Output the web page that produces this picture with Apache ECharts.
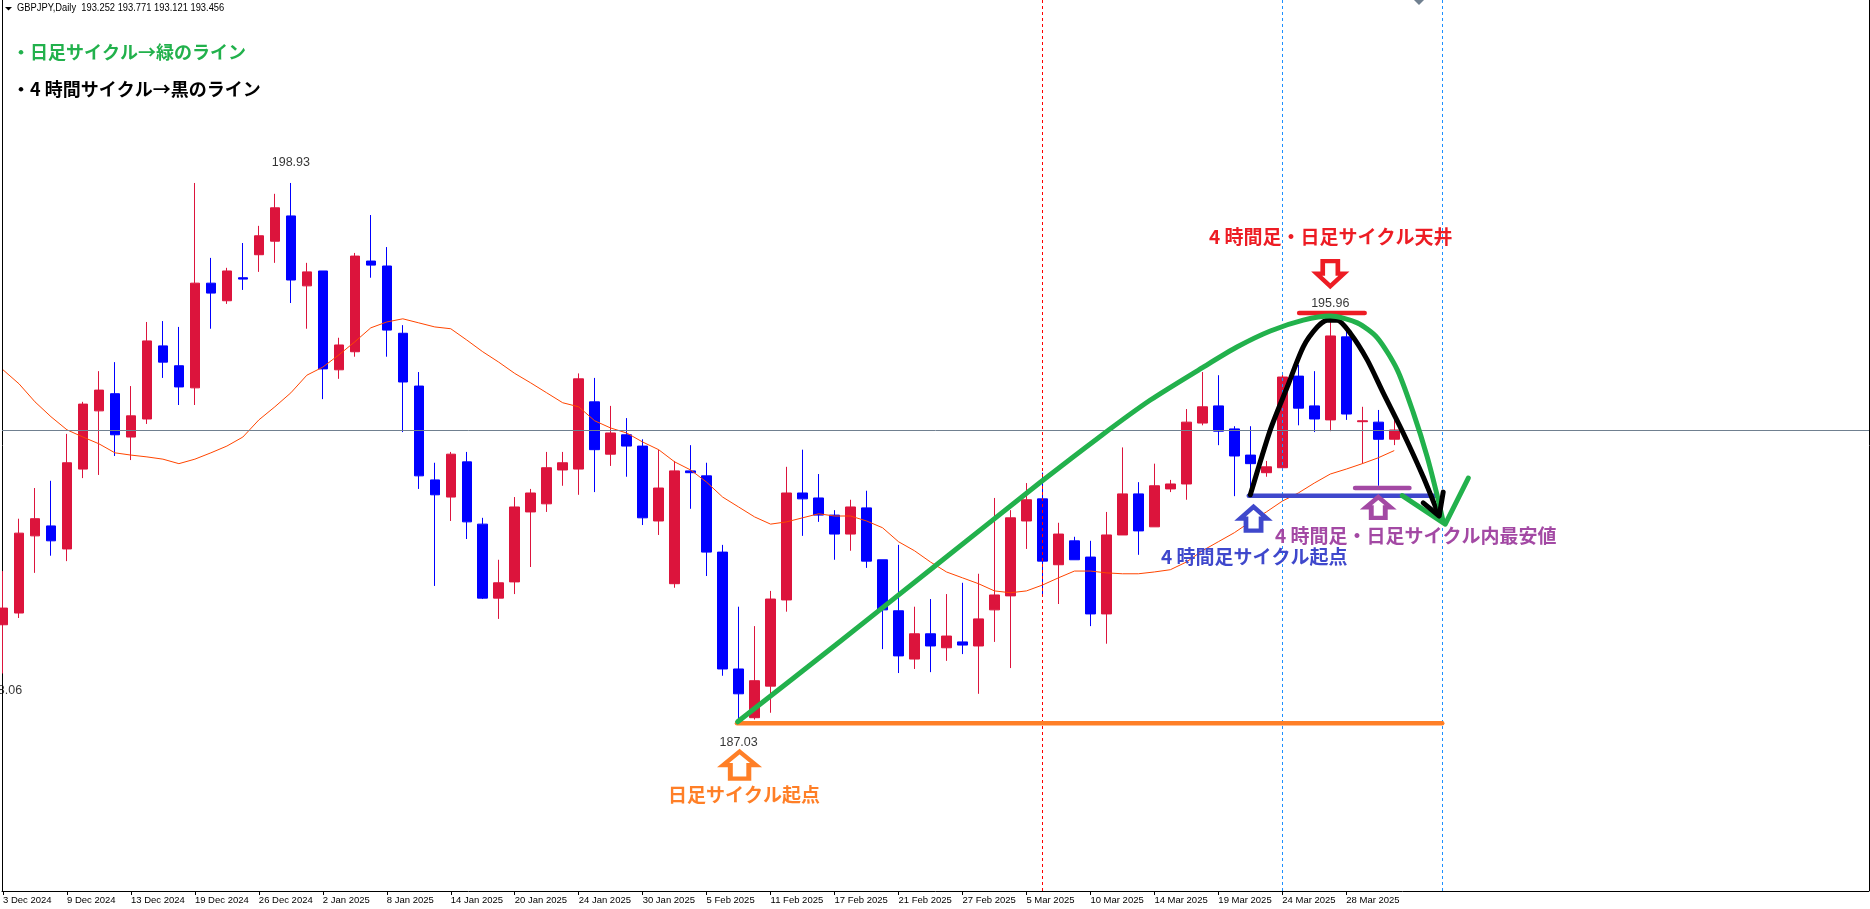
<!DOCTYPE html>
<html lang="ja">

<head>
  <meta charset="utf-8">
  <title>GBPJPY Daily</title>
  <script src="https://cdn.jsdelivr.net/npm/echarts@6/dist/echarts.min.js"></script>
  <style>
    html, body { margin: 0; background: white; overflow: hidden; }
    #chart { width: 1870px; height: 909px; }
  </style>
</head>

<body>
  <div id="chart"></div>

  <script>
    // --- Data.

    // Candles, one entry per trading day, starting at 3 Dec 2024.
    const opens = [
      189.14, 189.40, 191.11, 191.33, 190.82, 192.59, 193.88, 194.26, 193.30, 193.70,
      195.32, 194.88, 194.39, 196.71, 196.32, 196.83, 197.34, 197.64, 198.20, 196.65,
      196.98, 194.79, 195.19, 197.20, 197.09, 195.60, 194.43, 192.35, 191.97, 192.75,
      191.37, 189.73, 190.09, 191.64, 191.82, 192.57, 192.59, 194.08, 192.92, 193.35,
      193.10, 191.44, 190.05, 192.55, 192.44, 190.75, 188.16, 187.08, 187.78, 189.69,
      192.06, 191.95, 191.57, 191.15, 191.73, 190.58, 189.45, 188.38, 188.94, 188.63,
      188.76, 188.67, 189.47, 189.78, 191.44, 191.93, 190.47, 191.00, 190.64, 189.38,
      191.13, 192.04, 191.31, 192.15, 192.26, 193.61, 193.99, 193.48, 192.90, 192.51,
      192.62, 194.65, 193.99, 193.68, 195.52, 193.64, 193.63, 193.252
    ];
    const closes = [
      189.51, 191.17, 191.49, 191.00, 192.73, 194.03, 194.34, 193.35, 193.77, 195.43,
      194.96, 194.41, 196.71, 196.49, 196.98, 196.80, 197.76, 198.38, 196.78, 196.96,
      194.81, 195.34, 197.31, 197.11, 195.67, 194.52, 192.44, 192.02, 192.92, 191.42,
      189.73, 190.07, 191.75, 192.06, 192.62, 192.73, 194.59, 193.02, 193.39, 193.10,
      191.51, 192.17, 192.55, 192.51, 190.75, 188.16, 187.61, 187.90, 189.71, 192.06,
      191.93, 191.57, 191.15, 191.75, 190.55, 189.47, 188.45, 188.94, 188.67, 188.89,
      188.69, 189.27, 189.80, 191.51, 191.91, 190.55, 191.15, 190.58, 189.38, 191.13,
      192.04, 191.22, 192.22, 192.26, 193.63, 193.97, 193.43, 192.88, 192.71, 192.64,
      194.63, 193.94, 193.70, 195.54, 193.81, 193.66, 193.25, 193.456
    ];
    const lows = [
      188.06, 189.29, 190.29, 190.67, 190.55, 192.39, 192.46, 192.88, 192.79, 193.59,
      194.61, 194.01, 194.01, 195.70, 196.25, 196.56, 196.96, 197.16, 196.27, 195.70,
      194.14, 194.59, 195.08, 196.83, 195.08, 193.41, 192.15, 190.00, 191.44, 191.04,
      189.71, 189.27, 189.82, 190.42, 191.64, 192.22, 192.02, 192.08, 192.66, 192.42,
      191.35, 191.13, 189.96, 191.71, 190.22, 188.01, 187.03, 187.04, 187.19, 189.43,
      191.11, 191.42, 190.58, 190.78, 190.40, 188.60, 188.07, 188.16, 188.09, 188.34,
      188.49, 187.61, 188.76, 188.18, 190.82, 189.80, 189.60, 190.58, 189.11, 188.72,
      191.13, 190.69, 191.31, 192.08, 191.91, 193.56, 193.12, 191.99, 192.06, 192.42,
      192.62, 193.56, 193.41, 193.43, 193.68, 192.71, 192.22, 193.121
    ];
    const highs = [
      190.33, 191.49, 192.17, 192.33, 193.37, 194.08, 194.76, 194.96, 194.43, 195.85,
      195.87, 195.74, 198.93, 197.27, 197.05, 197.60, 197.98, 198.69, 198.93, 197.16,
      196.98, 195.50, 197.38, 198.22, 197.51, 195.78, 194.74, 192.73, 192.97, 192.97,
      191.51, 190.58, 191.97, 192.15, 192.97, 192.97, 194.71, 194.61, 193.99, 193.72,
      193.25, 193.02, 192.77, 193.12, 192.73, 190.91, 189.54, 189.11, 189.89, 192.64,
      193.02, 192.48, 191.68, 191.91, 192.11, 190.58, 190.91, 189.54, 189.71, 189.82,
      190.07, 190.27, 191.95, 191.68, 192.28, 192.51, 191.40, 191.09, 191.00, 191.64,
      193.07, 192.30, 192.71, 192.35, 193.92, 194.74, 194.67, 193.54, 193.54, 192.77,
      194.74, 194.90, 194.76, 195.96, 195.72, 193.97, 193.90, 193.771
    ];

    // The moving average, one value per candle.
    const movingAverage = [
      194.79, 194.48, 194.08, 193.75, 193.46, 193.30, 193.15, 192.95, 192.90, 192.86,
      192.81, 192.71, 192.81, 192.95, 193.10, 193.30, 193.68, 193.97, 194.28, 194.67,
      194.85, 195.12, 195.41, 195.72, 195.85, 195.92, 195.83, 195.74, 195.70, 195.45,
      195.19, 194.96, 194.71, 194.50, 194.28, 194.06, 193.97, 193.66, 193.50, 193.39,
      193.19, 193.02, 192.75, 192.57, 192.30, 191.97, 191.75, 191.53, 191.37, 191.42,
      191.51, 191.60, 191.55, 191.55, 191.44, 191.29, 190.98, 190.78, 190.53, 190.31,
      190.18, 190.05, 189.89, 189.85, 189.89, 190.02, 190.18, 190.33, 190.33, 190.29,
      190.27, 190.27, 190.31, 190.36, 190.53, 190.78, 190.98, 191.18, 191.42, 191.64,
      191.88, 192.06, 192.28, 192.48, 192.59, 192.71, 192.84, 193.00
    ];

    // Time axis labels, one every four candles.
    const tickIndexes = [0, 4, 8, 12, 16, 20, 24, 28, 32, 36, 40, 44, 48, 52, 56, 60, 64, 68, 72, 76, 80, 84];
    const tickLabels = [
      '3 Dec 2024', '9 Dec 2024', '13 Dec 2024', '19 Dec 2024', '26 Dec 2024', '2 Jan 2025',
      '8 Jan 2025', '14 Jan 2025', '20 Jan 2025', '24 Jan 2025', '30 Jan 2025', '5 Feb 2025',
      '11 Feb 2025', '17 Feb 2025', '21 Feb 2025', '27 Feb 2025', '5 Mar 2025', '10 Mar 2025',
      '14 Mar 2025', '19 Mar 2025', '24 Mar 2025', '28 Mar 2025'
    ];

    // High and low labels that the platform prints, [candle, price].
    const lowLabels = [[0, 188.06], [46, 187.03]];
    const highLabels = [[18, 198.93], [83, 195.96]];

    const lastClose = 193.456;
    const redPeriodLine = 65;
    const bluePeriodLines = [80, 90];

    // Hand drawn lines on top of the chart, [candle, price].
    const dailyCycle = [
      [45.94, 186.99], [52.38, 188.78], [58.38, 190.47], [64.81, 192.28], [68.63, 193.32], [71.75, 194.12],
      [75.06, 194.85], [77.19, 195.30], [79.25, 195.65], [81.31, 195.89], [83.00, 195.98], [84.69, 195.83],
      [85.94, 195.50], [87.19, 194.79], [88.19, 193.84], [89.06, 192.86], [89.75, 191.91], [90.06, 191.42]
    ];
    const dailyHead = [[87.5, 192.00], [90.19, 191.37], [91.63, 192.39]];
    const fourHourCycle = [
      [78.00, 192.02], [79.25, 193.46], [80.31, 194.41], [81.31, 195.30], [82.19, 195.74], [82.81, 195.89],
      [83.44, 195.89], [84.25, 195.60], [85.31, 195.01], [86.31, 194.28], [87.56, 193.39], [88.81, 192.42],
      [89.81, 191.55]
    ];
    const fourHourHead = [[88.81, 191.84], [89.81, 191.55], [90.06, 192.08]];
    const dailyStartLine = [[45.9, 186.96], [90, 186.96]];
    const fourHourStartLine = [[77.9, 192.00], [89.6, 192.00]];
    const cycleLowLine = [[84.55, 192.17], [87.95, 192.17]];
    const cycleTopLine = [[81.05, 196.05], [85.15, 196.05]];

    // Hollow arrows, [candle, price].
    const orangeArrow = [[46.06, 186.03]];
    const blueArrow = [[78.2, 191.49]];
    const purpleArrow = [[86, 191.74]];
    const redArrow = [[83, 196.92]];



    // --- Styling constants.



    const UP_COLOR = '#dc143c';
    const DOWN_COLOR = '#0000ff';
    const GREEN = '#22b14c';
    const ORANGE = '#ff7f27';
    const INDIGO = '#3f48cc';
    const PURPLE = '#a349a4';
    const RED = '#ed1c24';
    const SLATE = '#708090';

    const LATIN_FONT = '"Liberation Sans", sans-serif';
    const JP_FONT = '"Noto Sans CJK JP", sans-serif';
    const ARROW_PATH = 'path://M50,0 L100,50 L78,50 L78,100 L22,100 L22,50 L0,50 Z';



    // --- Series helpers.



    // A thick hand drawn line in data coordinates.
    function drawnLine(points, color, width, smooth) {
      return {
        type: 'line',
        data: points,
        smooth: smooth ? 0.25 : false,
        symbol: 'none',
        silent: true,
        z: 6,
        lineStyle: { color: color, width: width, cap: 'round', join: 'round' }
      };
    }

    // A hollow block arrow, pointing up unless it is rotated.
    function hollowArrow(points, color, size, rotate) {
      return {
        type: 'scatter',
        data: points,
        symbol: ARROW_PATH,
        symbolSize: size,
        symbolRotate: rotate,
        silent: true,
        z: 7,
        itemStyle: { color: '#ffffff', borderColor: color, borderWidth: 4.5, opacity: 1 }
      };
    }

    // Labels printed above or below a candle, with no visible marker.
    function priceLabels(points, position, distanceFor) {
      return {
        type: 'scatter',
        data: points.map(p => ({ value: p, label: { distance: distanceFor(p[0]) } })),
        symbolSize: 0,
        silent: true,
        z: 4,
        clip: false,
        label: {
          show: true,
          position: position,
          color: '#000000',
          fontFamily: LATIN_FONT,
          fontSize: 12.5,
          formatter: (p) => p.value[1].toFixed(2)
        }
      };
    }

    // Annotation text at a fixed place on the page.
    function pageText(text, x, y, color, size, weight, font, scaleX) {
      return {
        type: 'text',
        x: x,
        y: y,
        z: 20,
        scaleX: scaleX || 1,
        style: {
          text: text,
          fill: color,
          font: (weight || 'bold') + ' ' + (size || 19) + 'px ' + (font || JP_FONT),
          verticalAlign: 'middle'
        }
      };
    }



    // --- Chart.



    const candleData = opens.map((open, i) => [i, open, closes[i], lows[i], highs[i]]);

    const options = {
      animation: false,
      backgroundColor: '#ffffff',
      grid: { left: 1, right: 1, top: 0, bottom: 18, containLabel: false },
      xAxis: {
        type: 'value',
        min: -0.0625,
        max: 116.6875,
        splitLine: { show: false },
        axisLine: { show: true, onZero: false, lineStyle: { color: '#000000', width: 1 } },
        axisTick: { show: true, length: 4, customValues: tickIndexes, lineStyle: { color: '#000000' } },
        axisLabel: {
          customValues: tickIndexes,
          color: '#000000',
          fontFamily: LATIN_FONT,
          fontSize: 9.5,
          align: 'left',
          margin: 4,
          showMinLabel: true,
          formatter: (value) => tickLabels[tickIndexes.indexOf(value)]
        }
      },
      yAxis: {
        type: 'value',
        min: 183.24,
        max: 202.985,
        splitLine: { show: false },
        axisTick: { show: false },
        axisLabel: { show: false },
        axisLine: { show: true, onZero: false, lineStyle: { color: '#000000', width: 1 } }
      },
      series: [
        // Reference lines, behind the candles.
        {
          type: 'line',
          data: [],
          z: 1,
          silent: true,
          markLine: {
            silent: true,
            animation: false,
            symbol: 'none',
            label: { show: false },
            data: [
              { yAxis: lastClose, lineStyle: { color: SLATE, width: 1, type: 'solid' } },
              { xAxis: redPeriodLine, lineStyle: { color: '#ff0000', width: 1, type: [3, 3] } }
            ].concat(bluePeriodLines.map(x => ({
              xAxis: x,
              lineStyle: { color: '#1e90ff', width: 1, type: [3, 3] }
            })))
          }
        },
        {
          type: 'candlestick',
          data: candleData,
          encode: { x: 0, y: [1, 2, 3, 4] },
          barWidth: 10,
          z: 2,
          silent: true,
          itemStyle: {
            color: UP_COLOR,
            borderColor: UP_COLOR,
            color0: DOWN_COLOR,
            borderColor0: DOWN_COLOR,
            borderWidth: 1
          }
        },
        {
          type: 'line',
          data: movingAverage.map((v, i) => [i, v]),
          symbol: 'none',
          silent: true,
          z: 3,
          lineStyle: { color: '#ff4500', width: 1 }
        },
        // The printed high and low labels.
        priceLabels(lowLabels, 'bottom', (i) => i === 46 ? 16 : 11),
        priceLabels(highLabels, 'top', (i) => i === 83 ? 7 : 14),
        drawnLine(dailyStartLine, ORANGE, 4.5),
        drawnLine(fourHourStartLine, INDIGO, 4.5),
        drawnLine(cycleLowLine, PURPLE, 4.5),
        drawnLine(cycleTopLine, RED, 4.5),
        drawnLine(fourHourCycle, '#000000', 5, true),
        drawnLine(dailyCycle, GREEN, 5, true),
        drawnLine(dailyHead, GREEN, 5),
        drawnLine(fourHourHead, '#000000', 5),
        hollowArrow(orangeArrow, ORANGE, [33, 27], 0),
        hollowArrow(blueArrow, INDIGO, [27, 24], 0),
        hollowArrow(purpleArrow, PURPLE, [25, 21], 0),
        hollowArrow(redArrow, RED, [27, 25], 180)
      ],
      graphic: [
        // The little menu triangle in front of the symbol name.
        {
          type: 'polygon',
          z: 20,
          shape: { points: [[5, 7], [12, 7], [8.5, 10.5]] },
          style: { fill: '#000000' }
        },
        // Edge of a slate marker cut off by the top of the window.
        {
          type: 'polygon',
          z: 20,
          shape: { points: [[1414, 0], [1424, 0], [1419, 5]] },
          style: { fill: SLATE }
        },
        // Right hand border of the chart.
        {
          type: 'line',
          z: 20,
          shape: { x1: 1869.5, y1: 0, x2: 1869.5, y2: 891 },
          style: { stroke: '#000000', lineWidth: 1 }
        },
        pageText('GBPJPY,Daily  193.252 193.771 193.121 193.456', 17, 8, '#000000', 11, 'normal', LATIN_FONT, 0.85),
        pageText('・日足サイクル→緑のライン', 12, 52, GREEN, 18),
        pageText('・4 時間サイクル→黒のライン', 12, 89, '#000000', 18),
        pageText('4 時間足・日足サイクル天井', 1209, 237, RED),
        pageText('4 時間足サイクル起点', 1161, 557, INDIGO),
        pageText('4 時間足・日足サイクル内最安値', 1275, 536, PURPLE),
        pageText('日足サイクル起点', 668, 795, ORANGE)
      ]
    };

    const instance = echarts.init(document.getElementById('chart'), null, { renderer: 'canvas' });
    instance.setOption(options);
  </script>
</body>

</html>
